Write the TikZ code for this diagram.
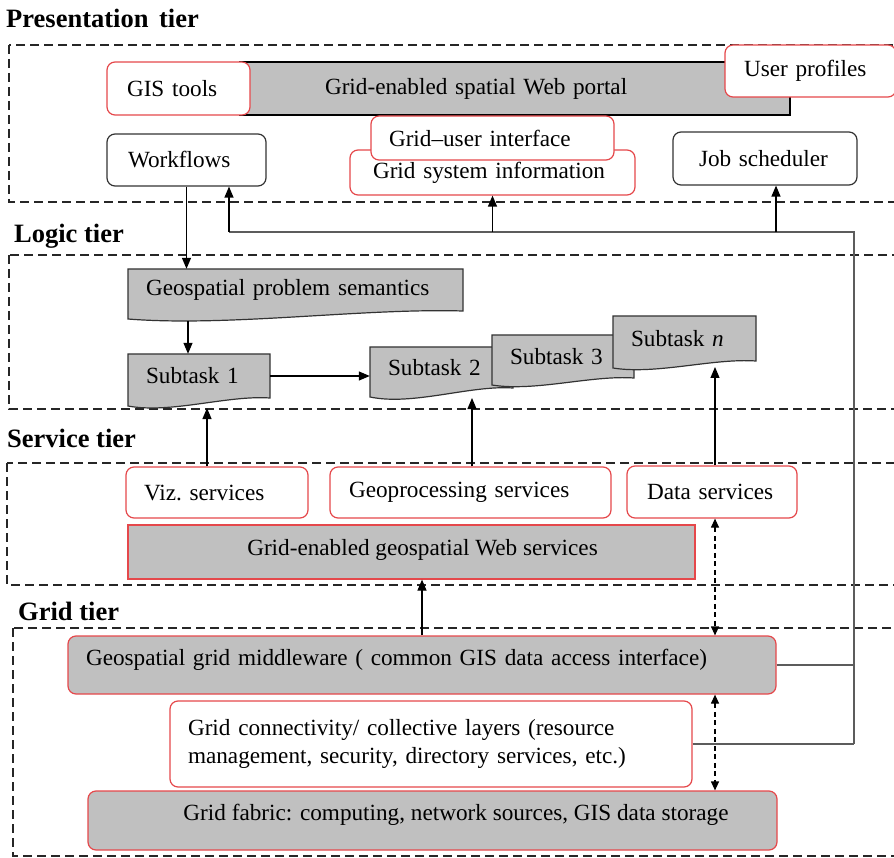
\documentclass[tikz,border=0pt]{standalone}
\usepackage{fontspec}
\setmainfont{Liberation Serif}
\usetikzlibrary{arrows.meta}
\definecolor{bred}{HTML}{E5484B}
\definecolor{bgray}{HTML}{C0C0C0}
\definecolor{tgray}{HTML}{5C5C5C}
\newcommand\docshp[7]{%
  \pgfmathsetmacro\dw{#4-#2}%
  \pgfmathsetmacro\dh{#5-#3}%
  \pgfmathsetmacro\dtw{#4-#2-36}%
  \pgfmathsetmacro\dcx{(#2+#4)/2}%
  \pgfmathsetmacro\dcy{(#3+#5)/2}%
  \filldraw[docsty] (#2,#3) -- (#4,#3) -- (#4,#5) .. controls ({#4-0.3*\dw},{#5-3}) and ({#2+0.3*\dw},{#5+2*#6}) .. (#2,{#5+#6}) -- cycle;
  \node[doctext, minimum width=\dw pt, minimum height=\dh pt, text width=\dtw pt] (#1) at (\dcx,\dcy) {#7};
}
\begin{document}
\begin{tikzpicture}[x=1pt,y=-1pt,
  font=\fontsize{23.2}{28}\selectfont,
  sz/.code n args={3}{\pgfmathsetmacro\szW{#1-2*#3}\edef\szTmp{\noexpand\tikzset{minimum width=#1pt,minimum height=#2pt,inner xsep=#3pt,text width=\szW pt}}\szTmp},
  rbox/.style={draw=bred, fill=white, line width=1.2pt, rounded corners=8pt, align=left, inner ysep=0pt},
  kbox/.style={draw=black!80, fill=white, line width=1.2pt, rounded corners=8pt, align=left, inner ysep=0pt},
  gbox/.style={draw=black, fill=bgray, line width=1.2pt, align=left, inner ysep=0pt},
  grbox/.style={draw=bred, fill=bgray, line width=1.2pt, rounded corners=8pt, align=left, inner ysep=0pt},
  docsty/.style={draw=black!80, fill=bgray, line width=1.2pt},
  doctext/.style={align=left, inner xsep=18pt, inner ysep=0pt},
  tier/.style={draw=black!85, line width=1.3pt, dash pattern=on 9pt off 5pt},
  tlabel/.style={font=\fontsize{26.5}{30}\selectfont\bfseries, anchor=base west, inner sep=0pt},
  arr/.style={-{Triangle[length=11pt,width=9pt]}, line width=1.2pt},
  darr/.style={{Triangle[length=9pt,width=8pt]}-{Triangle[length=9pt,width=8pt]}, line width=1.2pt, dash pattern=on 5pt off 3.5pt},
  trk/.style={draw=tgray, line width=1.4pt}
]
\useasboundingbox (0,0) rectangle (894,858);
\clip (0,0) rectangle (894,858);

% tier frames
\draw[tier] (9,45) rectangle (910,202);
\draw[tier] (9,255) rectangle (910,409);
\draw[tier] (7,463) rectangle (910,585);
\draw[tier] (13,628) rectangle (910,856);

% tier labels
\node[tlabel] (lpres) at (6,28) {Presentation\hspace{0.4em}tier};
\node[tlabel] (llogic) at (14,243) {Logic tier};
\node[tlabel] (lserv) at (7,447) {Service tier};
\node[tlabel] (lgrid) at (18,620) {Grid tier};

% presentation tier
\node[gbox, sz={550}{53}{85}] (portal) at (515,88.5) {Grid-enabled spatial Web portal};
\node[rbox, sz={143}{53}{20}] (gis) at (178.5,88.5) {GIS tools};
\node[rbox, sz={171}{52}{19}] (prof) at (810.5,71) {User profiles};
\node[kbox, sz={159}{52}{21}] (wf) at (186.5,160) {Workflows};
\node[rbox, sz={285}{45}{23}] (gsi) at (492.5,172.5) {Grid system information};
\node[rbox, sz={243}{44}{18}] (gui) at (492.5,138) {Grid--user interface};
\node[kbox, sz={184}{53}{26}] (job) at (765,158.5) {Job scheduler};

% logic tier
\docshp{gps}{128}{269}{463}{311}{8}{Geospatial problem semantics}
\docshp{st1}{128}{354}{270}{398}{8}{Subtask 1}
\docshp{st2}{370}{347}{513}{388}{9}{Subtask 2}
\docshp{st3}{492}{335}{634}{378}{7}{Subtask 3}
\docshp{stn}{613}{316}{756}{361}{7}{Subtask \textit{n}}

% service tier
\node[rbox, sz={182}{51}{18}] (viz) at (217,492.5) {Viz.\ services};
\node[rbox, sz={281}{51}{19}] (geo) at (470.5,492.5) {Geoprocessing services};
\node[rbox, sz={170}{52}{20}] (data) at (712,492) {Data services};
\node[draw=bred, fill=bgray, line width=1.2pt, inner sep=0pt, minimum width=567pt, minimum height=54pt, text height=6pt, text depth=0pt] (gws) at (411.5,552) {\hspace*{22pt}Grid-enabled geospatial Web services};

% grid tier
\node[grbox, sz={708}{58}{18}, text height=0pt, text depth=0pt] (mw) at (422,665) {Geospatial grid middleware ( common GIS data access interface)};
\node[rbox, sz={522}{86}{18}] (conn) at (431,744) {Grid connectivity/ collective layers (resource\\management, security, directory services, etc.)};
\node[draw=bred, fill=bgray, line width=1.2pt, rounded corners=8pt, inner sep=0pt, minimum width=689pt, minimum height=59pt, text height=0pt, text depth=0pt] (fab) at (432.5,820.5) {\hspace*{47pt}Grid fabric: computing, network sources, GIS data storage};

% connectors: presentation -> logic
\draw[arr] (wf.south) -- (wf.south |- gps.north);
\coordinate (gpsw) at (188,321);
\draw[arr] (gpsw) -- (gpsw |- st1.north);
\draw[arr] (st1.east) -- (st1.east -| st2.west);

% service -> logic
\coordinate (st1w) at (207,408);
\draw[arr] (st1w |- viz.north) -- (st1w);
\coordinate (st2w) at (472,398);
\draw[arr] (st2w |- geo.north) -- (st2w);
\coordinate (stnw) at (715,367);
\draw[arr] (stnw |- data.north) -- (stnw);

% grid -> service
\draw[arr] (mw.north) -- (mw.north |- gws.south);
\coordinate (dx) at (715,518);
\draw[darr] (dx |- data.south) -- (dx |- mw.north);
\draw[darr] (dx |- mw.south) -- (dx |- fab.north);

% trunk from grid tier back to presentation tier
\coordinate (tl) at (229,232);
\coordinate (tr) at (854,232);
\coordinate (jb) at (776,232);
\draw[trk] (tl) -- (tr) -- (tr |- conn.east);
\draw[trk] (mw.east) -- (mw.east -| tr);
\draw[trk] (conn.east) -- (conn.east -| tr);
\draw[arr] (tl) -- (tl |- wf.south);
\draw[arr] (gsi.south |- tl) -- (gsi.south);
\draw[arr] (jb) -- (jb |- job.south);
\end{tikzpicture}
\end{document}
